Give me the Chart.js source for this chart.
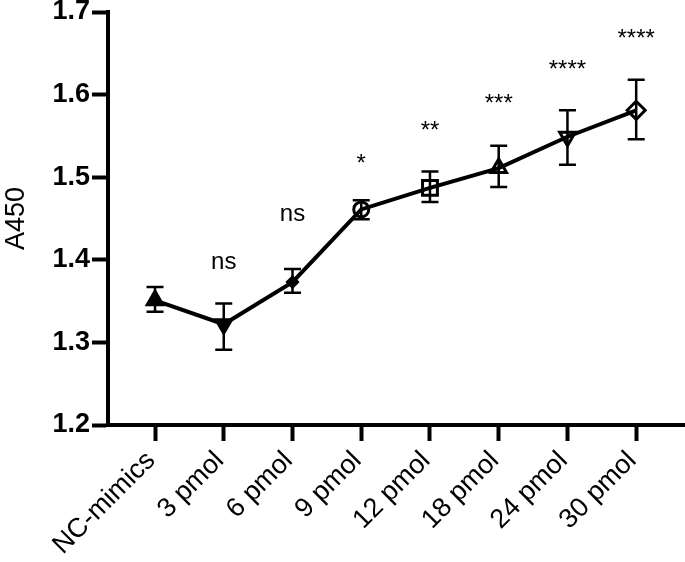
<!DOCTYPE html>
<html>
<head>
<meta charset="utf-8">
<script src="https://cdn.jsdelivr.net/npm/chart.js@4.4.1/dist/chart.umd.min.js"></script>
<style>
    html, body { margin: 0; padding: 0; background: #fff; overflow: hidden; }
    canvas { display: block; }
</style>
</head>
<body>
<canvas id="chart" width="685" height="562"></canvas>
<script>
// groups and values
const groups = ['NC-mimics', '3 pmol', '6 pmol', '9 pmol', '12 pmol', '18 pmol', '24 pmol', '30 pmol'];
const a450 = [1.351, 1.322, 1.373, 1.461, 1.487, 1.511, 1.549, 1.581];
const errHigh = [1.367, 1.347, 1.389, 1.472, 1.507, 1.538, 1.581, 1.618];
const errLow = [1.337, 1.291, 1.360, 1.449, 1.470, 1.488, 1.515, 1.546];
const sigText = ['', 'ns', 'ns', '*', '**', '***', '****', '****'];
const sigLevel = [null, 1.389, 1.447, 1.507, 1.547, 1.580, 1.621, 1.659];
const yTicks = [1.2, 1.3, 1.4, 1.5, 1.6, 1.7];

const FONT = '"Liberation Sans", Arial, Helvetica, sans-serif';

const markers = ['triangle', 'triangle', 'rectRot', 'circle', 'rect', 'triangle', 'triangle', 'rectRot'];
const markerRot = [0, 180, 0, 0, 0, 0, 180, 0];
const markerFill = ['#000', '#000', '#000', 'rgba(0,0,0,0)', 'rgba(0,0,0,0)', 'rgba(0,0,0,0)', 'rgba(0,0,0,0)', 'rgba(0,0,0,0)'];
const markerSize = [9, 9, 5, 7.5, 10.5, 9, 9, 9];

const errorBars = {
    id: 'errorBars',
    beforeDatasetsDraw(chart) {
        const { ctx, scales: { x, y } } = chart;
        ctx.save();
        ctx.strokeStyle = '#000';
        ctx.lineWidth = 2.5;
        groups.forEach((g, i) => {
            const px = x.getPixelForValue(i);
            const top = y.getPixelForValue(errHigh[i]);
            const bot = y.getPixelForValue(errLow[i]);
            ctx.beginPath();
            ctx.moveTo(px, top); ctx.lineTo(px, bot);
            ctx.moveTo(px - 8.5, top); ctx.lineTo(px + 8.5, top);
            ctx.moveTo(px - 8.5, bot); ctx.lineTo(px + 8.5, bot);
            ctx.stroke();
        });
        ctx.restore();
    },
    afterDatasetsDraw(chart) {
        const { ctx, scales: { x, y } } = chart;
        ctx.save();
        ctx.fillStyle = '#000';
        ctx.font = '24px ' + FONT;
        ctx.textAlign = 'center';
        ctx.textBaseline = 'alphabetic';
        sigText.forEach((t, i) => {
            if (!t) return;
            ctx.fillText(t, x.getPixelForValue(i), y.getPixelForValue(sigLevel[i]));
        });
        ctx.restore();
    }
};

new Chart(document.getElementById('chart'), {
    type: 'line',
    data: {
        datasets: [{
            data: a450.map((v, i) => ({ x: i, y: v })),
            borderColor: '#000',
            borderWidth: 4,
            tension: 0,
            pointStyle: markers,
            rotation: markerRot,
            pointRadius: markerSize,
            pointBackgroundColor: markerFill,
            pointBorderColor: '#000',
            pointBorderWidth: 3,
            clip: false
        }]
    },
    options: {
        responsive: false,
        animation: false,
        layout: { autoPadding: false, padding: { top: 12, right: 0, left: 0, bottom: 0 } },
        plugins: { legend: { display: false }, tooltip: { enabled: false } },
        scales: {
            x: {
                type: 'linear',
                min: -0.684,
                max: 7.71,
                afterBuildTicks: s => { s.ticks = groups.map((g, i) => ({ value: i })); },
                afterFit: s => { s.height = 137; s.paddingLeft = 0; s.paddingRight = 0; },
                border: { display: true, color: '#000', width: 4 },
                grid: { drawOnChartArea: false, drawTicks: true, tickLength: 16, tickWidth: 4, tickColor: '#000' },
                ticks: {
                    autoSkip: false,
                    minRotation: 45,
                    maxRotation: 45,
                    padding: 4,
                    labelOffset: -4,
                    color: '#000',
                    font: { family: FONT, size: 27 },
                    callback: v => groups[v]
                }
            },
            y: {
                min: 1.2,
                max: 1.7,
                afterBuildTicks: s => { s.ticks = yTicks.map(v => ({ value: v })); },
                afterFit: s => { s.width = 108; s.paddingTop = 0; s.paddingBottom = 0; },
                border: { display: true, color: '#000', width: 4 },
                grid: { drawOnChartArea: false, drawTicks: true, tickLength: 16, tickWidth: 4, tickColor: '#000' },
                ticks: {
                    padding: 2,
                    color: '#000',
                    font: { family: FONT, size: 27, weight: 'bold' },
                    callback: v => v.toFixed(1)
                },
                title: {
                    display: true,
                    text: 'A450',
                    color: '#000',
                    font: { family: FONT, size: 27 },
                    padding: { top: 0, bottom: 0 }
                }
            }
        }
    },
    plugins: [errorBars]
});
</script>
</body>
</html>
